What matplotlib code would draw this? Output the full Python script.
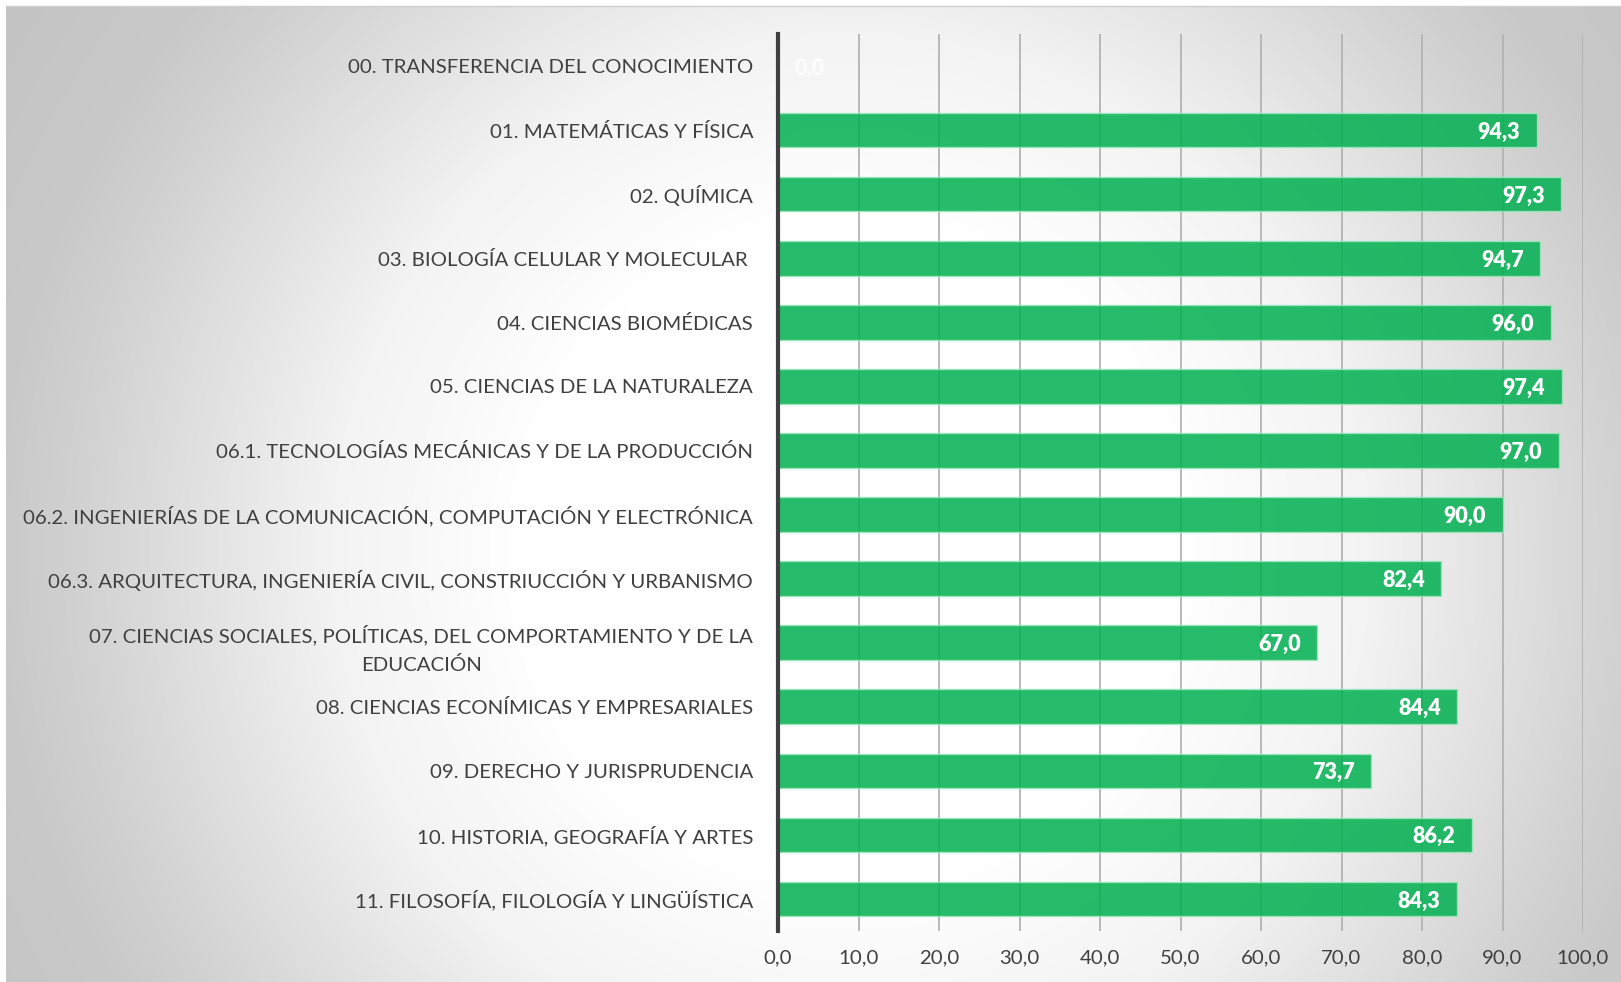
import numpy as np
import matplotlib
matplotlib.use("Agg")
import matplotlib.pyplot as plt

plt.rcParams['font.family'] = ['Lato', 'DejaVu Sans']
plt.rcParams['font.size'] = 14.7

categories = [
    "00. TRANSFERENCIA DEL CONOCIMIENTO",
    "01. MATEMÁTICAS Y FÍSICA",
    "02. QUÍMICA",
    "03. BIOLOGÍA CELULAR Y MOLECULAR ",
    "04. CIENCIAS BIOMÉDICAS",
    "05. CIENCIAS DE LA NATURALEZA",
    "06.1. TECNOLOGÍAS MECÁNICAS Y DE LA PRODUCCIÓN",
    "06.2. INGENIERÍAS DE LA COMUNICACIÓN, COMPUTACIÓN Y ELECTRÓNICA",
    "06.3. ARQUITECTURA, INGENIERÍA CIVIL, CONSTRIUCCIÓN Y URBANISMO",
    "07. CIENCIAS SOCIALES, POLÍTICAS, DEL COMPORTAMIENTO Y DE LA\nEDUCACIÓN",
    "08. CIENCIAS ECONÍMICAS Y EMPRESARIALES",
    "09. DERECHO Y JURISPRUDENCIA",
    "10. HISTORIA, GEOGRAFÍA Y ARTES",
    "11. FILOSOFÍA, FILOLOGÍA Y LINGÜÍSTICA",
]
values = [0.0, 94.3, 97.3, 94.7, 96.0, 97.4, 97.0, 90.0, 82.4, 67.0, 84.4, 73.7, 86.2, 84.3]
xticks = [0, 10, 20, 30, 40, 50, 60, 70, 80, 90, 100]

W, H = 1621, 982
fig = plt.figure(figsize=(W / 100, H / 100), dpi=100)

# background radial gradient (chart area)
bg = fig.add_axes([6 / W, 0, 1 - 6 / W, 1 - 6 / H], zorder=-10)
yy, xx = np.mgrid[0:976, 0:1615]
r = np.hypot(xx - 845, yy - 545)
g = np.interp(r, [0, 330, 520, 770, 850, 1000, 1300], [255, 255, 243, 210, 201, 196, 194]) / 255
bg.imshow(np.dstack([g, g, g]), aspect='auto', interpolation='bilinear')
bg.axis('off')
fig.add_artist(plt.Line2D([6 / W, 1], [1 - 5.5 / H] * 2, color='#cfcfcf', lw=1))

ax = fig.add_axes([778 / W, 1 - 931 / H, (1583 - 778) / W, (931 - 34) / H])
ax.set_facecolor('none')

y = np.arange(len(categories))
ax.barh(y, values, height=0.54, color='#00B050', alpha=0.85,
        edgecolor='#9fe6bc', linewidth=1, zorder=2)

for yi, v in zip(y, values):
    txt = f"{v:.1f}".replace('.', ',')
    if v > 0:
        ax.annotate(txt, (v, yi), xytext=(-12, 0), textcoords='offset points',
                    ha='right', va='center_baseline', color='white', fontweight='heavy',
                    fontsize=15.5, zorder=3)
    else:
        ax.annotate(txt, (v, yi), xytext=(12, 0), textcoords='offset points',
                    ha='left', va='center_baseline', color='white', fontweight='heavy',
                    fontsize=15.5, alpha=0.8, zorder=3)

ax.set_xlim(0, 100)
ax.set_ylim(len(categories) - 0.5, -0.5)
ax.set_xticks(xticks)
ax.set_xticklabels([f"{t:.1f}".replace('.', ',') for t in xticks], color='#404040')
ax.set_yticks(y)
ax.set_yticklabels(categories, color='#404040', multialignment='center', linespacing=1.7)
ax.tick_params(axis='both', length=0)
ax.tick_params(axis='x', pad=13)
ax.tick_params(axis='y', pad=18)

ax.grid(axis='x', color='#b3b3b3', linewidth=1.3, zorder=1)
ax.set_axisbelow(True)
for s in ['top', 'right', 'bottom']:
    ax.spines[s].set_visible(False)
ax.spines['left'].set_color('#404040')
ax.spines['left'].set_linewidth(3)
ax.spines['left'].set_zorder(4)

fig.savefig("out.png", dpi=100)
